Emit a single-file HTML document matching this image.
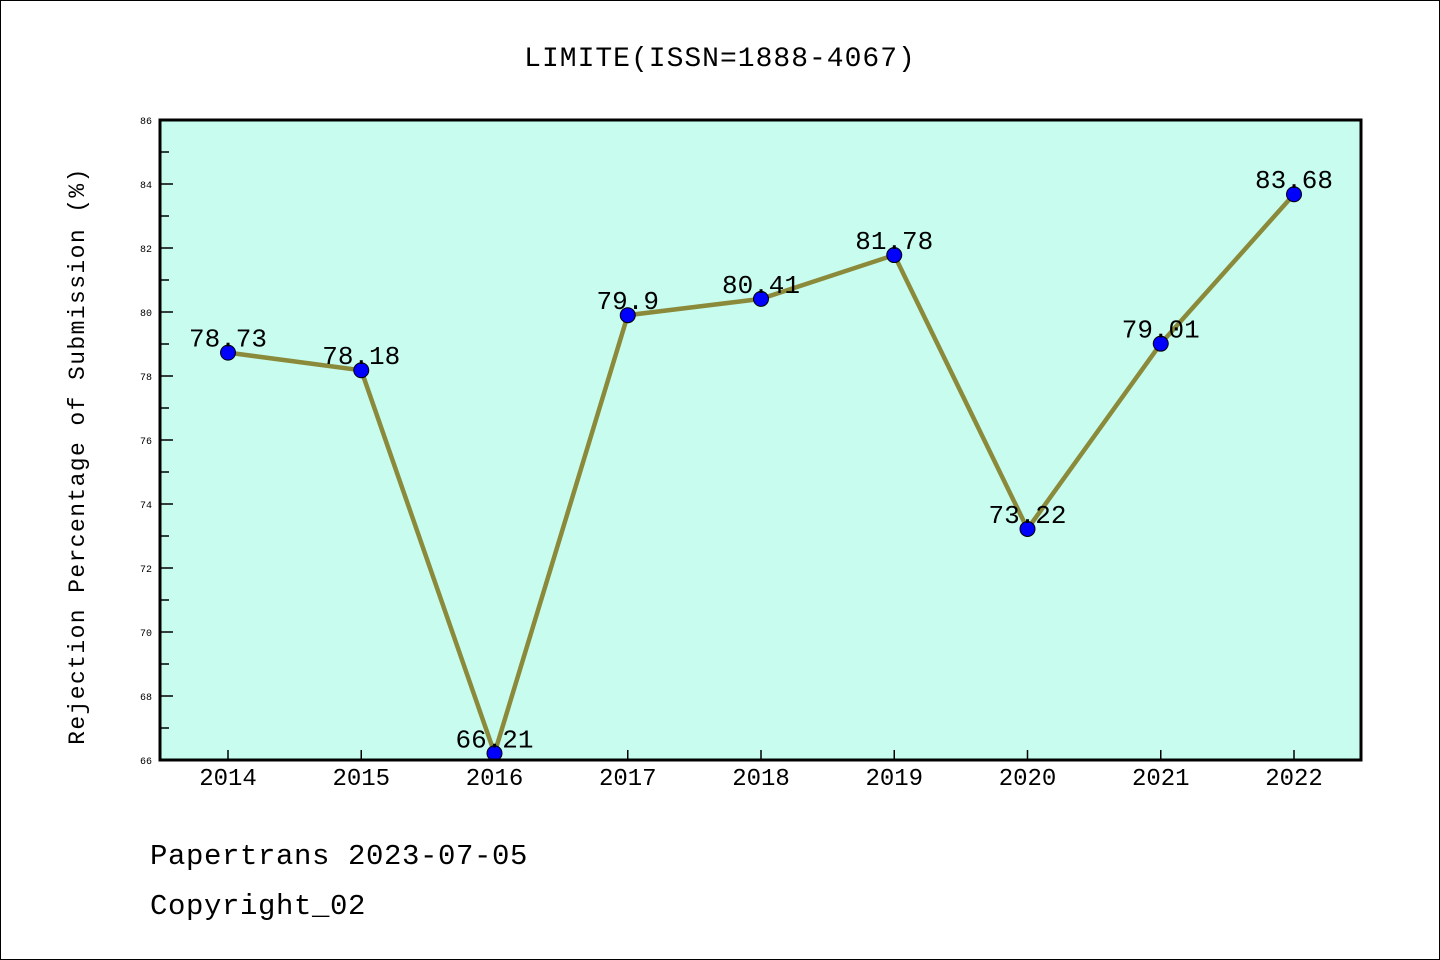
<!DOCTYPE html>
<html><head><meta charset="utf-8"><style>
html,body{margin:0;padding:0;background:#fff}
svg{display:block}
text{font-family:"Liberation Mono",monospace}
</style></head><body>
<svg id="chart" width="1440" height="960" xmlns="http://www.w3.org/2000/svg">
<rect x="0.5" y="0.5" width="1439" height="959" fill="#fff" stroke="#000"/>
<text x="720" y="66" text-anchor="middle" font-size="28" letter-spacing="1">LIMITE(ISSN=1888-4067)</text>
<rect x="160" y="120" width="1201" height="640" fill="#c7fcef"/>
<g id="axes"></g>
<g id="marks"></g>
<rect x="160" y="120" width="1201" height="640" fill="none" stroke="#000" stroke-width="3"/>
<text x="84" y="456" text-anchor="middle" font-size="23" letter-spacing="1.4" transform="rotate(-90 84 456)">Rejection Percentage of Submission (%)</text>
<text x="150" y="864" font-size="29" letter-spacing="0.6">Papertrans 2023-07-05</text>
<text x="150" y="914" font-size="29" letter-spacing="0.6">Copyright_02</text>
</svg>
<script>
const categories = ["2014","2015","2016","2017","2018","2019","2020","2021","2022"];
const values = [78.73,78.18,66.21,79.9,80.41,81.78,73.22,79.01,83.68];
const labels = ["78.73","78.18","66.21","79.9","80.41","81.78","73.22","79.01","83.68"];
const yTicks = [66,68,70,72,74,76,78,80,82,84,86];
const yMin = 66, yMax = 86;
const NS = "http://www.w3.org/2000/svg";
const x = i => 228 + i * (1294 - 228) / (categories.length - 1);
const y = v => 760 - (v - yMin) / (yMax - yMin) * 640;
function mk(tag, attrs, parent, txt){const e=document.createElementNS(NS,tag);for(const k in attrs)e.setAttribute(k,attrs[k]);if(txt!==undefined)e.textContent=txt;parent.appendChild(e);return e;}
const axes=document.getElementById('axes'), marks=document.getElementById('marks');
yTicks.forEach((t,i)=>{
  const yy=y(t);
  const l=mk('line',{x1:160,x2:173,y1:yy,y2:yy,stroke:'#000','stroke-width':1.5},axes);
  
  
  const tx=mk('text',{x:152,y:yy+4,'text-anchor':'end','font-size':10,'font-family':'Liberation Sans, sans-serif'},axes,String(t));
  
  
  if(i<yTicks.length-1){
    const ym=y(t+(yTicks[i+1]-t)/2);
    const m=mk('line',{x1:160,x2:169,y1:ym,y2:ym,stroke:'#000','stroke-width':1.5},axes);
    
    
  }
});
categories.forEach((c,i)=>{
  const t=mk('line',{x1:x(i),x2:x(i),y1:760,y2:750,stroke:'#000','stroke-width':1.5},axes);
  
  
  const tx=mk('text',{x:x(i),y:785,'text-anchor':'middle','font-size':24},axes,c);
  
  
});
const pl=mk('polyline',{points:values.map((v,i)=>x(i)+','+y(v)).join(' '),fill:'none',stroke:'#8b8a3a','stroke-width':4.5},marks);


values.forEach((v,i)=>{
  const c=mk('circle',{cx:x(i),cy:y(v),r:7.5,fill:'#0000ff',stroke:'#000','stroke-width':1},marks);
  
  
  const t=mk('text',{x:x(i),y:y(v)-6,'text-anchor':'middle','font-size':26},marks,labels[i]);
  
  
});
</script>
</body></html>
